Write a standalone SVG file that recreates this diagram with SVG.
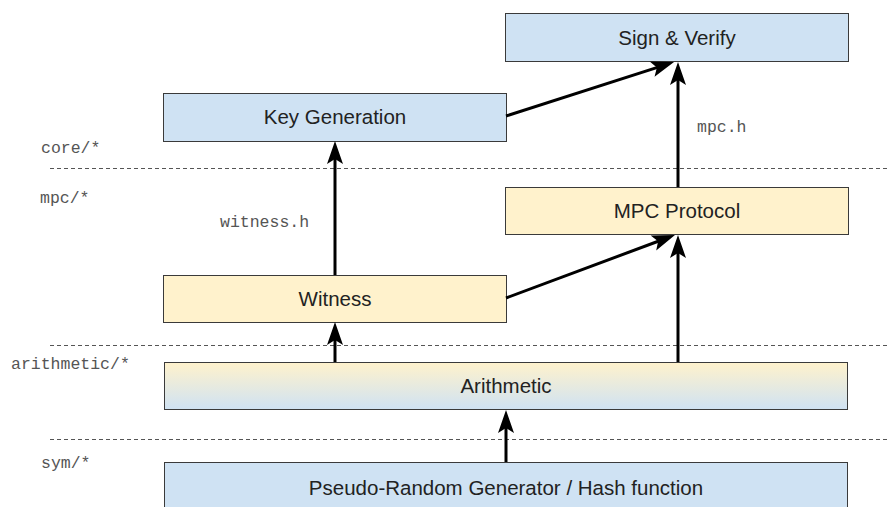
<svg xmlns="http://www.w3.org/2000/svg" width="890" height="507" viewBox="0 0 890 507">
<style>
.box{stroke:#3a3a3a;stroke-width:1}
.blue{fill:#cfe2f3}
.yellow{fill:#fff2cc}
.lbl{font-family:"Liberation Sans",Arial,sans-serif;font-size:20.5px;fill:#222;text-anchor:middle}
.mono{font-family:"Liberation Mono","Courier New",monospace;font-size:16.5px;fill:#555}
.sep{stroke:#555;stroke-width:1;stroke-dasharray:4,3;fill:none}
.conn{stroke:#000;stroke-width:3;fill:none;marker-end:url(#arr)}
</style>
<defs>
<marker id="arr" markerUnits="userSpaceOnUse" viewBox="-15 -10 30 20" markerWidth="30" markerHeight="20" refX="0" refY="0" orient="auto">
<path d="M10,0 L-13,-8 L-8,0 L-13,8 Z" fill="#000"/>
</marker>
<linearGradient id="grad" x1="0" y1="0" x2="0" y2="1">
<stop offset="0" stop-color="#fff2cc"/>
<stop offset="1" stop-color="#cfe2f3"/>
</linearGradient>
</defs>
<rect width="890" height="507" fill="#fff"/>
<g id="separators">
<line class="sep" x1="50" y1="168.5" x2="890" y2="168.5"/>
<line class="sep" x1="50" y1="345.5" x2="890" y2="345.5"/>
<line class="sep" x1="50" y1="439.5" x2="890" y2="439.5"/>
</g>
<g id="layer-labels">
<text class="mono" x="41" y="153">core/*</text>
<text class="mono" x="40" y="203">mpc/*</text>
<text class="mono" x="11" y="369">arithmetic/*</text>
<text class="mono" x="41" y="468">sym/*</text>
</g>
<g id="sign-verify">
<rect class="box blue" x="505.5" y="13.5" width="343" height="48"/>
<text class="lbl" x="677" y="45">Sign &amp; Verify</text>
</g>
<g id="key-generation">
<rect class="box blue" x="163.5" y="93.5" width="343" height="48"/>
<text class="lbl" x="335" y="124">Key Generation</text>
</g>
<g id="mpc-protocol">
<rect class="box yellow" x="505.5" y="187.5" width="343" height="47"/>
<text class="lbl" x="677" y="218">MPC Protocol</text>
</g>
<g id="witness">
<rect class="box yellow" x="163.5" y="275.5" width="343" height="47"/>
<text class="lbl" x="335" y="306">Witness</text>
</g>
<g id="arithmetic">
<rect class="box" fill="url(#grad)" x="164.5" y="362.5" width="683" height="47"/>
<text class="lbl" x="506" y="393">Arithmetic</text>
</g>
<g id="prg-hash">
<rect class="box blue" x="164.5" y="462.5" width="683" height="60"/>
<text class="lbl" x="506" y="495">Pseudo-Random Generator / Hash function</text>
</g>
<g id="connectors">
<line class="conn" x1="335" y1="275" x2="335" y2="151"/>
<line class="conn" x1="506" y1="298" x2="665.6" y2="238.5"/>
<line class="conn" x1="335" y1="362" x2="335" y2="332"/>
<line class="conn" x1="678" y1="362" x2="678" y2="245"/>
<line class="conn" x1="506" y1="116" x2="664.5" y2="65.1"/>
<line class="conn" x1="678" y1="187" x2="678" y2="72"/>
<line class="conn" x1="506" y1="462" x2="506" y2="420"/>
<text class="mono" x="220" y="227">witness.h</text>
<text class="mono" x="697" y="132">mpc.h</text>
</g>
</svg>
